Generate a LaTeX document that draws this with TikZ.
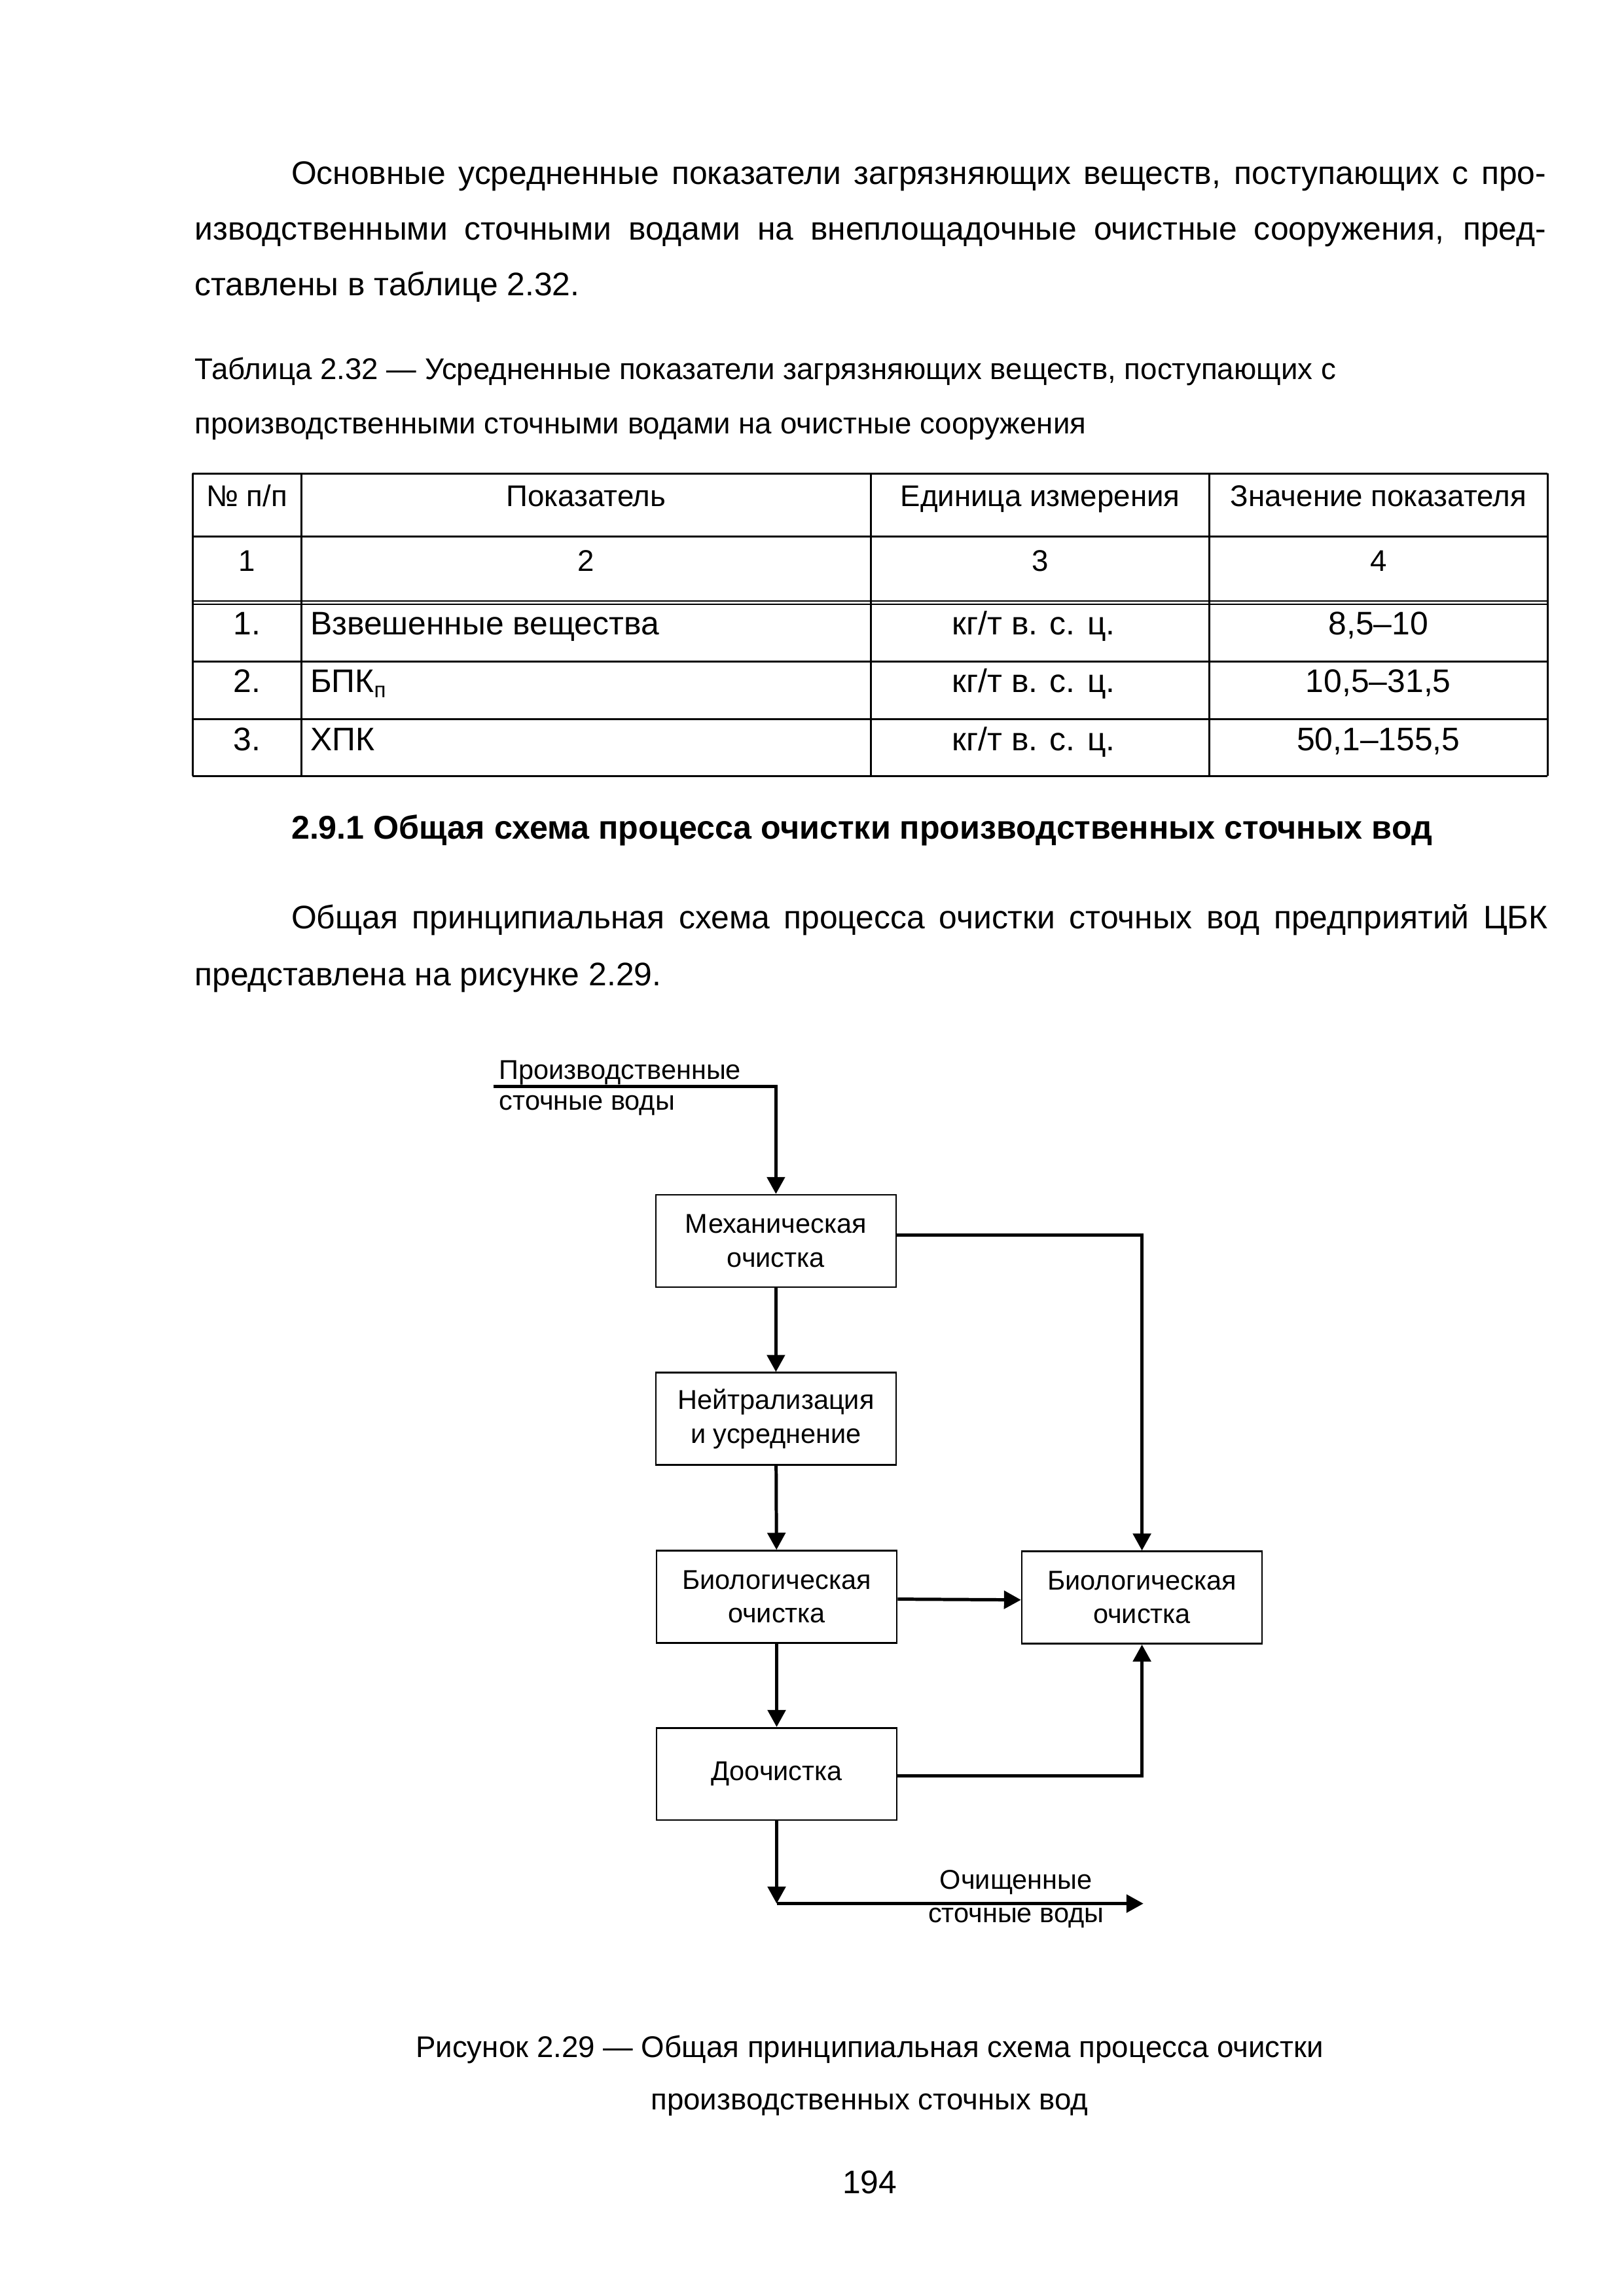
\documentclass[tikz,border=0pt]{standalone}
\usepackage{fontspec}
\setmainfont{Liberation Sans}
\usetikzlibrary{arrows.meta}
\begin{document}
\begin{tikzpicture}[x=0.18936mm,y=-0.18936mm,
  txt/.style={inner sep=0pt, outer sep=0pt, font=\fontsize{12pt}{14pt}\selectfont},
  small/.style={inner sep=0pt, outer sep=0pt, font=\fontsize{11pt}{13pt}\selectfont},
  dia/.style={inner sep=0pt, outer sep=0pt, font=\fontsize{10pt}{12pt}\selectfont},
  box/.style={draw, line width=0.65pt, minimum width=31.06mm, minimum height=11.93mm, align=center, inner sep=0pt, font=\fontsize{10pt}{12.4pt}\selectfont},
  conn/.style={line width=1.2pt, -{Triangle[length=2.2mm,width=2.3mm]}},
  tline/.style={line width=0.7pt},
  dline/.style={line width=0.45pt}]

\useasboundingbox (0,0) rectangle (1109,1568);
\fill[white] (0,0) rectangle (1109,1568);

% ---- body text
\node[txt, anchor=base west] (p1a) at (199,126) {\makebox[162.3mm][s]{Основные усредненные показатели загрязняющих веществ, поступающих с про-}};
\node[txt, anchor=base west] (p1b) at (133,164) {\makebox[174.8mm][s]{изводственными сточными водами на внеплощадочные очистные сооружения, пред-}};
\node[txt, anchor=base west] (p1c) at (133,202) {ставлены в таблице 2.32.};

\node[small, anchor=base west] (tc1) at (133,259) {Таблица 2.32 — Усредненные показатели загрязняющих веществ, поступающих с};
\node[small, anchor=base west] (tc2) at (133,296) {производственными сточными водами на очистные сооружения};

% ---- table
\draw[tline] (131.5,323.3) -- (1057,323.3);
\draw[tline] (131.5,366.3) -- (1057,366.3);
\draw[dline] (131.5,410.4) -- (1057,410.4);
\draw[dline] (131.5,412.6) -- (1057,412.6);
\draw[tline] (131.5,451.7) -- (1057,451.7);
\draw[tline] (131.5,491) -- (1057,491);
\draw[tline] (131.5,530) -- (1057,530);
\foreach \xx in {131.5,205.7,595,826,1057}
  \draw[tline] (\xx,323.3) -- (\xx,530);

\node[small, anchor=base] (h1) at (168.6,346) {№ п/п};
\node[small, anchor=base] (h2) at (400.3,346) {Показатель};
\node[small, anchor=base] (h3) at (710.5,346) {Единица измерения};
\node[small, anchor=base] (h4) at (941.5,346) {Значение показателя};

\node[small, anchor=base] (n1) at (168.6,390) {1};
\node[small, anchor=base] (n2) at (400.3,390) {2};
\node[small, anchor=base] (n3) at (710.5,390) {3};
\node[small, anchor=base] (n4) at (941.5,390) {4};

\node[txt, anchor=base] (r1a) at (168.6,433.4) {1.};
\node[txt, anchor=base west] (r1b) at (212,433.4) {Взвешенные вещества};
\node[txt, anchor=base] (r1c) at (706,433.4) {кг/т в. с. ц.};
\node[txt, anchor=base] (r1d) at (941.5,433.4) {8,5–10};

\node[txt, anchor=base] (r2a) at (168.6,473) {2.};
\node[txt, anchor=base west] (r2b) at (212,473) {БПК\textsubscript{п}};
\node[txt, anchor=base] (r2c) at (706,473) {кг/т в. с. ц.};
\node[txt, anchor=base] (r2d) at (941.5,473) {10,5–31,5};

\node[txt, anchor=base] (r3a) at (168.6,512.5) {3.};
\node[txt, anchor=base west] (r3b) at (212,512.5) {ХПК};
\node[txt, anchor=base] (r3c) at (706,512.5) {кг/т в. с. ц.};
\node[txt, anchor=base] (r3d) at (941.5,512.5) {50,1–155,5};

% ---- heading and paragraph
\node[txt, font=\fontsize{12.1pt}{14pt}\selectfont\bfseries, anchor=base west] (hd) at (199,573) {2.9.1 Общая схема процесса очистки производственных сточных вод};
\node[txt, anchor=base west] (p2a) at (199,634) {\makebox[162.5mm][s]{Общая принципиальная схема процесса очистки сточных вод предприятий ЦБК}};
\node[txt, anchor=base west] (p2b) at (133,673) {представлена на рисунке 2.29.};

% ---- diagram
\node[dia, anchor=base west] (lin1) at (341,737) {Производственные};
\node[dia, anchor=base west] (lin2) at (341,758) {сточные воды};
\coordinate (in) at (337,742);

\node[box] (b1) at (530,847.5) {Механическая\\очистка};
\node[box] (b2) at (530,969) {Нейтрализация\\и усреднение};
\node[box] (b3) at (530.5,1090.5) {Биологическая\\очистка};
\node[box] (b4) at (780,1091) {Биологическая\\очистка};
\node[box] (b5) at (530.5,1211.5) {Доочистка};

\coordinate (outc) at (530.5,1300);
\coordinate (outend) at (781,1300);

\draw[conn] (in) -| (b1.north);
\draw[conn] (b1) -- (b2);
\draw[conn] (b2) -- (b3);
\draw[conn] ([yshift=0.8mm]b1.east) -| (b4.north);
\draw[conn] ([yshift=-0.3mm]b3.east) -- ([yshift=-0.3mm]b4.west);
\draw[conn] (b3) -- (b5);
\draw[conn] ([yshift=-0.25mm]b5.east) -| (b4.south);
\draw[conn] (b5.south) -- (outc);
\draw[conn] (outc) -- (outend);

\node[dia, anchor=base] (lout1) at (694,1290) {Очищенные};
\node[dia, anchor=base] (lout2) at (694,1313) {сточные воды};

% ---- caption and page number
\node[small, anchor=base] (fc1) at (594,1405) {Рисунок 2.29 — Общая принципиальная схема процесса очистки};
\node[small, anchor=base] (fc2) at (594,1441) {производственных сточных вод};
\node[txt, anchor=base] (pg) at (594,1498) {194};
\end{tikzpicture}
\end{document}
